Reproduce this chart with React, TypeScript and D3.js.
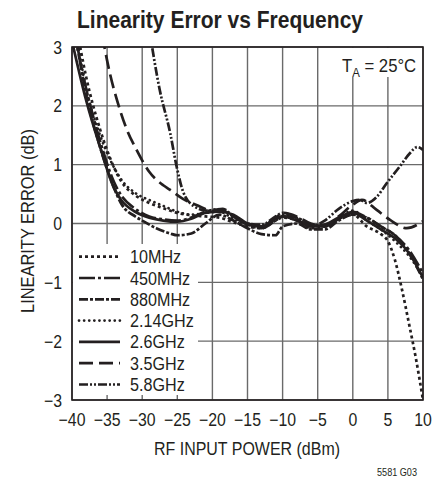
import React from "react";
import * as d3 from "d3";

const xTicks = [-40, -35, -30, -25, -20, -15, -10, -5, 0, 5, 10];
const yTicks = [3, 2, 1, 0, -1, -2, -3];
const seriesNames = ["10MHz", "450MHz", "880MHz", "2.14GHz", "2.6GHz", "3.5GHz", "5.8GHz"];

const s10MHz: [number, number][] = [
  [-39.3, 3.3], [-38, 2.5], [-36, 1.6], [-34, 0.95], [-33, 0.72], [-31, 0.48], [-29, 0.35], [-27, 0.26],
  [-25, 0.18], [-23, 0.14], [-21, 0.12], [-19, 0.1], [-17, 0.02], [-15, -0.05], [-13, -0.08], [-11, 0.05],
  [-10, 0.1], [-8, 0.05], [-6, -0.08], [-4, -0.05], [-2, 0.08], [0, 0.15], [2, -0.05], [4, -0.18],
  [5, -0.3], [6, -0.62], [7, -1.12], [8, -1.7], [9, -2.3], [10, -3.0],
];
const s450MHz: [number, number][] = [
  [-39.8, 3.3], [-38, 2.3], [-36, 1.4], [-34, 0.7], [-33, 0.48], [-31, 0.25], [-29, 0.12], [-27, 0.07],
  [-25, 0.05], [-23, 0.1], [-21, 0.2], [-19, 0.24], [-17, 0.12], [-15, -0.02], [-13, -0.08], [-11, 0.05],
  [-10, 0.12], [-8, 0.1], [-6, -0.02], [-4, -0.05], [-2, 0.08], [0, 0.2], [2, 0.1], [4, -0.05],
  [6, -0.2], [8, -0.45], [10, -0.85],
];
const s880MHz: [number, number][] = [
  [-39.6, 3.3], [-38, 2.2], [-36, 1.3], [-34, 0.6], [-33, 0.34], [-31, 0.12], [-30, 0.05], [-28, -0.08],
  [-26, -0.17], [-25, -0.2], [-23, -0.17], [-21, 0.0], [-19, 0.15], [-17, 0.05], [-15, -0.08], [-13, -0.18],
  [-11, -0.2], [-10, -0.05], [-8, 0.0], [-6, -0.1], [-4, -0.1], [-2, 0.05], [0, 0.15], [2, 0.1],
  [4, -0.05], [6, -0.2], [8, -0.5], [10, -0.95],
];
const s214GHz: [number, number][] = [
  [-39.5, 3.3], [-38, 2.3], [-36, 1.5], [-34, 0.95], [-33, 0.75], [-31, 0.52], [-29, 0.4], [-27, 0.3],
  [-25, 0.2], [-23, 0.15], [-21, 0.18], [-19, 0.2], [-17, 0.08], [-15, -0.02], [-13, -0.05], [-11, 0.1],
  [-10, 0.15], [-8, 0.08], [-6, -0.05], [-4, -0.05], [-2, 0.1], [0, 0.22], [2, 0.05], [4, -0.1],
  [6, -0.3], [8, -0.55], [10, -0.9],
];
const s26GHz: [number, number][] = [
  [-40, 3.1], [-38, 2.1], [-36, 1.3], [-34, 0.6], [-33, 0.4], [-31, 0.2], [-29, 0.1], [-27, 0.05],
  [-25, 0.03], [-23, 0.08], [-21, 0.18], [-19, 0.2], [-17, 0.15], [-15, 0.0], [-13, -0.05], [-11, 0.08],
  [-10, 0.12], [-8, 0.05], [-6, -0.05], [-4, -0.02], [-2, 0.1], [0, 0.18], [2, 0.05], [4, -0.1],
  [6, -0.25], [8, -0.5], [10, -0.92],
];
const s35GHz: [number, number][] = [
  [-35.7, 3.2], [-34.6, 2.55], [-33.6, 2.1], [-32.2, 1.6], [-30.8, 1.25], [-29, 0.88], [-27, 0.65], [-26, 0.57],
  [-24.2, 0.42], [-22, 0.3], [-20.3, 0.22], [-18, 0.2], [-17, 0.12], [-15, 0.0], [-13, -0.05], [-11, 0.1],
  [-10, 0.18], [-8, 0.12], [-6, 0.0], [-4, -0.05], [-2, 0.12], [0, 0.32], [1.3, 0.4], [3.4, 0.23],
  [5.3, 0.06], [7.7, -0.08], [10, 0.04],
];
const s58GHz: [number, number][] = [
  [-29, 3.3], [-27.5, 2.27], [-26, 1.53], [-25.1, 0.97], [-24.2, 0.55], [-22.7, 0.3], [-20.8, 0.22], [-18.5, 0.25],
  [-17, 0.12], [-15, 0.0], [-13, -0.02], [-11, 0.12], [-10, 0.18], [-8, 0.1], [-6, -0.05], [-4, 0.05],
  [-2, 0.25], [0, 0.38], [1, 0.4], [2, 0.35], [3.4, 0.45], [4.8, 0.68], [6.7, 0.97], [8.1, 1.19],
  [9.2, 1.3], [10, 1.25],
];

const seriesData = [s10MHz, s450MHz, s880MHz, s214GHz, s26GHz, s35GHz, s58GHz];

const styles = [
  { dash: "3,3", cap: "butt" },
  { dash: "16,3,3,3", cap: "butt" },
  { dash: "9,2,3,2", cap: "butt" },
  { dash: "0.1,5", cap: "round" },
  { dash: "none", cap: "butt" },
  { dash: "14,6", cap: "butt" },
  { dash: "9,2,2,2,2,2", cap: "butt" },
];

const W = 448, H = 481;
const L = 72, R = 423, T = 47, B = 400;
const font = "'Liberation Sans', Arial, sans-serif";
const ink = "#231f20";

function NText(props: {
  x: number; y: number; sx?: number; anchor?: string; size: number; weight?: string; children: React.ReactNode;
}) {
  const { x, y, sx = 0.86, anchor = "start", size, weight = "normal", children } = props;
  return (
    <text
      transform={`translate(${x},${y}) scale(${sx},1)`}
      textAnchor={anchor}
      fontFamily={font}
      fontSize={size}
      fontWeight={weight}
      fill={ink}
    >
      {children}
    </text>
  );
}

export default function App() {
  const x = d3.scaleLinear().domain([-40, 10]).range([L, R]);
  const y = d3.scaleLinear().domain([-3, 3]).range([B, T]);
  const line = d3
    .line<[number, number]>()
    .x((d) => x(d[0]))
    .y((d) => y(d[1]))
    .curve(d3.curveMonotoneX);

  const legendY0 = 256.7;
  const legendDy = 21.3;
  const fmt = (t: number) => (t < 0 ? "\u2212" + Math.abs(t) : String(t));

  return (
    <svg width={W} height={H} style={{ position: "absolute", left: 0, top: 0, background: "#fff" }}>
      <defs>
        <clipPath id="plot">
          <rect x={L} y={T} width={R - L} height={B - T} />
        </clipPath>
      </defs>
      <text
        x={77}
        y={28}
        textLength={286}
        lengthAdjust="spacingAndGlyphs"
        fontFamily={font}
        fontWeight="bold"
        fontSize={24}
        fill={ink}
      >
        Linearity Error vs Frequency
      </text>
      {/* grid */}
      {xTicks.map((t) => (
        <line key={"gx" + t} x1={x(t)} x2={x(t)} y1={T} y2={B} stroke="#6a6a6a" strokeWidth={1.4} />
      ))}
      {yTicks.map((t) => (
        <line key={"gy" + t} x1={L} x2={R} y1={y(t)} y2={y(t)} stroke="#6a6a6a" strokeWidth={1.4} />
      ))}
      {/* legend and label backgrounds */}
      <rect x={L + 1} y={244} width={125} height={151} fill="#fff" />
      <rect x={331} y={T + 1} width={R - 332} height={29} fill="#fff" />
      {/* curves */}
      <g clipPath="url(#plot)">
        {seriesData.map((s, i) => (
          <path
            key={seriesNames[i]}
            d={line(s) || ""}
            fill="none"
            stroke={ink}
            strokeWidth={2.7}
            strokeDasharray={styles[i].dash}
            strokeLinecap={styles[i].cap as any}
          />
        ))}
      </g>
      {/* border */}
      <rect x={L} y={T} width={R - L} height={B - T} fill="none" stroke={ink} strokeWidth={1.6} />
      {/* legend */}
      {seriesNames.map((n, i) => (
        <g key={"lg" + n}>
          <line
            x1={79}
            x2={120}
            y1={legendY0 + i * legendDy}
            y2={legendY0 + i * legendDy}
            stroke={ink}
            strokeWidth={2.7}
            strokeDasharray={styles[i].dash}
            strokeLinecap={styles[i].cap as any}
          />
          <NText x={130} y={legendY0 + i * legendDy + 6.5} size={19} sx={0.85}>
            {n}
          </NText>
        </g>
      ))}
      {/* T_A label */}
      <text transform="translate(342,72) scale(0.88,1)" fontFamily={font} fontSize={19} fill={ink}>
        T<tspan fontSize={13} dy={5}>A</tspan>
        <tspan dy={-5}> = 25°C</tspan>
      </text>
      {/* tick labels */}
      {xTicks.map((t) => (
        <NText key={"tx" + t} x={x(t)} y={426} anchor="middle" size={18} sx={0.88}>
          {fmt(t)}
        </NText>
      ))}
      {yTicks.map((t) => (
        <NText key={"ty" + t} x={62} y={y(t) + 6.5} anchor="end" size={18} sx={0.88}>
          {fmt(t)}
        </NText>
      ))}
      <text
        x={154}
        y={455}
        textLength={186}
        lengthAdjust="spacingAndGlyphs"
        fontFamily={font}
        fontSize={18}
        fill={ink}
      >
        RF INPUT POWER (dBm)
      </text>
      <text
        transform={`translate(34,313) rotate(-90)`}
        textLength={184}
        lengthAdjust="spacingAndGlyphs"
        fontFamily={font}
        fontSize={18}
        fill={ink}
      >
        LINEARITY ERROR (dB)
      </text>
      <text
        x={377}
        y={476}
        textLength={40}
        lengthAdjust="spacingAndGlyphs"
        fontFamily={font}
        fontSize={11}
        fill={ink}
      >
        5581 G03
      </text>
    </svg>
  );
}
